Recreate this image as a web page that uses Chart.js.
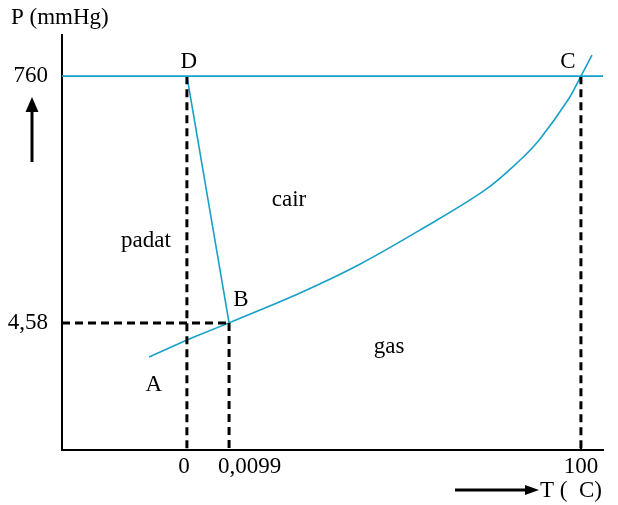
<!DOCTYPE html>
<html><head><meta charset="utf-8">
<script src="https://cdn.jsdelivr.net/npm/chart.js@4/dist/chart.umd.min.js"></script>
<style>html,body{margin:0;padding:0;background:#fff}#wrap{width:618px;height:505px;position:relative}</style>
</head><body><div id="wrap"><canvas id="c"></canvas></div>
<script>
// Schematic diagram units (not to scale, as in the original):
// T axis: 0 -> 0 °C, 10.7 -> 0,0099 °C, 100 -> 100 °C
// P axis: 34 -> 4,58 mmHg, 100 -> 760 mmHg
const xTickValues = [0, 10.7, 100];
const xTickLabels = ['0', '0,0099', '100'];
const yTickValues = [34, 100];
const yTickLabels = ['4,58', '760'];

const curveAB_T = [-9.6, 0, 1.8, 10.7];
const curveAB_P = [24.9, 29.4, 30.2, 34.0];
const curveBC_T = [10.7, 28.7, 43.9, 59.1, 75.6, 84.5, 89.6, 96.7, 100, 102.8];
const curveBC_P = [34.0, 42.0, 49.7, 58.8, 69.5, 77.5, 83.2, 93.6, 100, 105.6];
const curveDB_T = [0, 10.7];
const curveDB_P = [100, 34.0];
const line760_T = [-31.7, 105.6];
const line760_P = [100, 100];

const pointNames = ['A', 'B', 'C', 'D'];
const regionNames = ['padat', 'cair', 'gas'];

const X_MIN = -31.7, X_MAX = 105.6, Y_MIN = 0, Y_MAX = 111;
const teal = '#17a0c8';
const FAMILY = '"Liberation Serif", "Times New Roman", serif';
const FONT = '23px ' + FAMILY;

const pts = (xs, ys) => xs.map((x, i) => ({x, y: ys[i]}));

// text placement (diagram units)
const pointLabelPos = {A: [-8.4, 17.4], B: [13.7, 40.1], C: [96.7, 103.7], D: [0.5, 103.7]};
const regionLabelPos = {padat: [-10.4, 55.9], cair: [25.9, 66.8], gas: [51.3, 27.5]};

const dashed = (data) => ({data, borderColor: '#000', borderWidth: 3, borderDash: [8, 5], pointRadius: 0, fill: false, tension: 0});

const annot = {
  id: 'annot',
  afterDatasetsDraw(chart) {
    const {ctx, scales: {x, y}} = chart;
    ctx.save();
    ctx.fillStyle = '#000';
    ctx.font = FONT;
    ctx.textBaseline = 'middle';
    ctx.textAlign = 'center';
    pointNames.forEach(n => { const p = pointLabelPos[n]; ctx.fillText(n, x.getPixelForValue(p[0]), y.getPixelForValue(p[1])); });
    regionNames.forEach(n => { const p = regionLabelPos[n]; ctx.fillText(n, x.getPixelForValue(p[0]), y.getPixelForValue(p[1])); });
    // x tick labels
    const ly = chart.chartArea.bottom + 17;
    xTickValues.forEach((v, i) => {
      const px = x.getPixelForValue(v);
      if (i === 1) { ctx.textAlign = 'left'; ctx.fillText(xTickLabels[i], px - 11, ly); }
      else { ctx.textAlign = 'center'; ctx.fillText(xTickLabels[i], px - (i === 0 ? 3 : 0), ly); }
    });
    // tick mark at 100
    ctx.strokeStyle = '#000'; ctx.lineWidth = 2;
    const p100 = x.getPixelForValue(100);
    ctx.beginPath(); ctx.moveTo(p100, chart.chartArea.bottom); ctx.lineTo(p100, chart.chartArea.bottom - 5); ctx.stroke();
    // axis titles
    ctx.textAlign = 'left';
    ctx.fillText('P (mmHg)', 11, 18);
    ctx.fillText('T (  C)', 540, 491);
    // arrows
    ctx.lineWidth = 3;
    ctx.beginPath(); ctx.moveTo(32, 162); ctx.lineTo(32, 110); ctx.stroke();
    ctx.beginPath(); ctx.moveTo(32, 97); ctx.lineTo(25.5, 112); ctx.lineTo(38.5, 112); ctx.closePath(); ctx.fill();
    ctx.beginPath(); ctx.moveTo(455, 490); ctx.lineTo(527, 490); ctx.stroke();
    ctx.beginPath(); ctx.moveTo(539, 490); ctx.lineTo(525, 485); ctx.lineTo(525, 495); ctx.closePath(); ctx.fill();
    ctx.restore();
  }
};

new Chart(document.getElementById('c'), {
  type: 'line',
  data: {
    datasets: [
      {data: pts(line760_T, line760_P), borderColor: teal, borderWidth: 1.6, pointRadius: 0, tension: 0},
      dashed(pts([0, 0], [100, 0])),
      dashed(pts([10.7, 10.7], [34, 0])),
      dashed(pts([X_MIN, 10.7], [34, 34])),
      dashed(pts([100, 100], [100, 0])),
      {data: pts(curveAB_T, curveAB_P), borderColor: teal, borderWidth: 1.6, pointRadius: 0, tension: 0},
      {data: pts(curveDB_T, curveDB_P), borderColor: teal, borderWidth: 1.6, pointRadius: 0, tension: 0},
      {data: pts(curveBC_T, curveBC_P), borderColor: teal, borderWidth: 1.6, pointRadius: 0, tension: 0.35}
    ]
  },
  options: {
    responsive: true, maintainAspectRatio: false, animation: false,
    layout: {padding: {top: 35, right: 15, left: 0, bottom: 0}},
    plugins: {legend: {display: false}, tooltip: {enabled: false}},
    scales: {
      x: {
        type: 'linear', min: X_MIN, max: X_MAX,
        grid: {display: false},
        border: {display: true, color: '#000', width: 2},
        ticks: {display: false},
        afterFit(s) { s.height = 55; }
      },
      y: {
        type: 'linear', min: Y_MIN, max: Y_MAX,
        grid: {display: false, drawTicks: false},
        border: {display: true, color: '#000', width: 2},
        afterBuildTicks(s) { s.ticks = yTickValues.map(v => ({value: v})); },
        ticks: {
          padding: 14, color: '#000',
          font: {family: FAMILY, size: 23},
          callback: (v) => { const i = yTickValues.indexOf(v); return i >= 0 ? yTickLabels[i] : ''; }
        },
        afterFit(s) { s.width = 62; }
      }
    }
  },
  plugins: [annot]
});
</script>
</body></html>
